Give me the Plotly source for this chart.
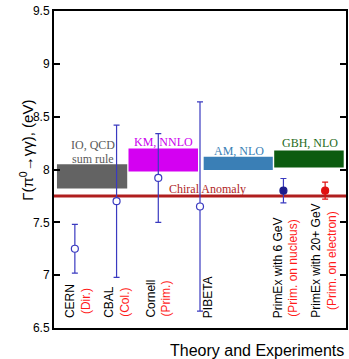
import plotly.graph_objects as go

# ---- data ----
exp_names = ["CERN", "CBAL", "Cornell", "PIBETA", "PrimEx with 6 GeV", "PrimEx with 20+ GeV"]
exp_methods = ["(Dir.)", "(Col.)", "(Prim.)", "", "(Prim. on nucleus)", "(Prim. on electron)"]
exp_slots = [1, 2, 3, 4, 6, 7]
exp_values = [7.25, 7.70, 7.92, 7.65, 7.80, 7.80]
exp_errors = [0.23, 0.72, 0.42, 0.99, 0.115, 0.08]

theory_names = ["KM, NNLO", "AM, NLO", "GBH, NLO"]
theory_label_io = ["IO, QCD", "sum rule"]
theory_values = [7.935, 8.09, 8.058, 8.10]
theory_errors = [0.115, 0.108, 0.062, 0.08]

chiral_anomaly = 7.75
y_ticks = [6.5, 7, 7.5, 8, 8.5, 9, 9.5]

# ---- styling / layout ----
theory_x = [(0.571, 2.255), (2.286, 3.952), (4.088, 5.745), (5.779, 7.445)]
theory_fill = ["#636363", "#d400f2", "#3a7fb6", "#0c5c10"]
theory_text = ["#cc00ee", "#3a7fb6", "#1f6b22"]
theory_label_xy = [(3.131, 8.263), (4.94, 8.178), (6.63, 8.248)]
io_label_xy = [(1.445, 8.229), (1.445, 8.104)]
marker_fill = ["white", "white", "white", "white", "#1c1c8c", "#e01010"]
marker_line = ["#3a3ac0", "#3a3ac0", "#3a3ac0", "#3a3ac0", "#1c1c8c", "#e01010"]
err_color = ["#3a3ac0", "#3a3ac0", "#3a3ac0", "#3a3ac0", "#3a3ac0", "#e01010"]
label_dx = [0.08, 0.01, 0.01, 0.2, 0.06, -0.03]

SANS = "Liberation Sans, Arial, sans-serif"
SERIF = "Liberation Serif, Times New Roman, serif"

fig = go.Figure()

shapes = []
for (x0, x1), v, e, c in zip(theory_x, theory_values, theory_errors, theory_fill):
    shapes.append(dict(type="rect", xref="x", yref="y", x0=x0, x1=x1,
                       y0=v - e, y1=v + e, fillcolor=c, line=dict(width=0),
                       layer="below"))
shapes.append(dict(type="line", xref="paper", yref="y", x0=0, x1=1,
                   y0=chiral_anomaly, y1=chiral_anomaly,
                   line=dict(color="#b01e1e", width=3), layer="below"))

for i in range(len(exp_names)):
    fig.add_trace(go.Scatter(
        x=[exp_slots[i]], y=[exp_values[i]], mode="markers",
        marker=dict(size=7, color=marker_fill[i], symbol="circle",
                    line=dict(color=marker_line[i], width=1.2)),
        error_y=dict(type="data", array=[exp_errors[i]], visible=True,
                     color=err_color[i], thickness=1.2, width=3),
        showlegend=False, hoverinfo="skip"))

annotations = []
for txt, (lx, ly) in zip(theory_label_io, io_label_xy):
    annotations.append(dict(x=lx, y=ly, xref="x", yref="y", text=txt,
                            showarrow=False, font=dict(family=SERIF, size=12, color="#5a5a5a")))
for name, (lx, ly), tc in zip(theory_names, theory_label_xy, theory_text):
    annotations.append(dict(x=lx, y=ly, xref="x", yref="y", text=name,
                            showarrow=False, font=dict(family=SERIF, size=12, color=tc)))
annotations.append(dict(x=4.17, y=7.816, xref="x", yref="y", text="Chiral Anomaly",
                        showarrow=False, font=dict(family=SERIF, size=12, color="#b01e1e")))

for i in range(len(exp_names)):
    txt = exp_names[i]
    if exp_methods[i]:
        txt += "<br><span style='color:#ff1a1a'>" + exp_methods[i] + "</span>"
    annotations.append(dict(x=exp_slots[i] + label_dx[i], y=6.577, xref="x", yref="y",
                            text=txt, textangle=-90, showarrow=False,
                            xanchor="center", yanchor="bottom", align="center",
                            font=dict(family=SANS, size=12, color="black")))

annotations.append(dict(x=-0.095, y=0.56, xref="paper", yref="paper",
                        text="Γ(π<sup>0</sup>→γγ), (eV)", textangle=-90,
                        xanchor="center", yanchor="middle",
                        showarrow=False, font=dict(family=SANS, size=15, color="black")))
annotations.append(dict(x=1.0, y=-0.07, xref="paper", yref="paper",
                        text="Theory and Experiments", xanchor="right", yanchor="middle",
                        showarrow=False, font=dict(family=SANS, size=16, color="black")))

fig.update_layout(
    width=349, height=359,
    margin=dict(l=54, r=1, t=11, b=31),
    paper_bgcolor="white", plot_bgcolor="white",
    shapes=shapes, annotations=annotations,
    xaxis=dict(range=[0.5, 7.5], showgrid=False, zeroline=False, showticklabels=False,
               ticks="", showline=True, linecolor="black", linewidth=2, mirror=True,
               fixedrange=True),
    yaxis=dict(range=[6.5, 9.5], tickvals=y_ticks, ticktext=[f"{t:g}" for t in y_ticks],
               showgrid=False, zeroline=False, ticks="inside", ticklen=6,
               tickwidth=2, tickcolor="black", showline=True, linecolor="black",
               linewidth=2, mirror="ticks",
               tickfont=dict(family=SANS, size=12, color="black"), fixedrange=True),
)

fig.write_html("out.html", config={"displayModeBar": False},
               post_script="document.body.style.margin='0';document.body.style.overflow='hidden';")
